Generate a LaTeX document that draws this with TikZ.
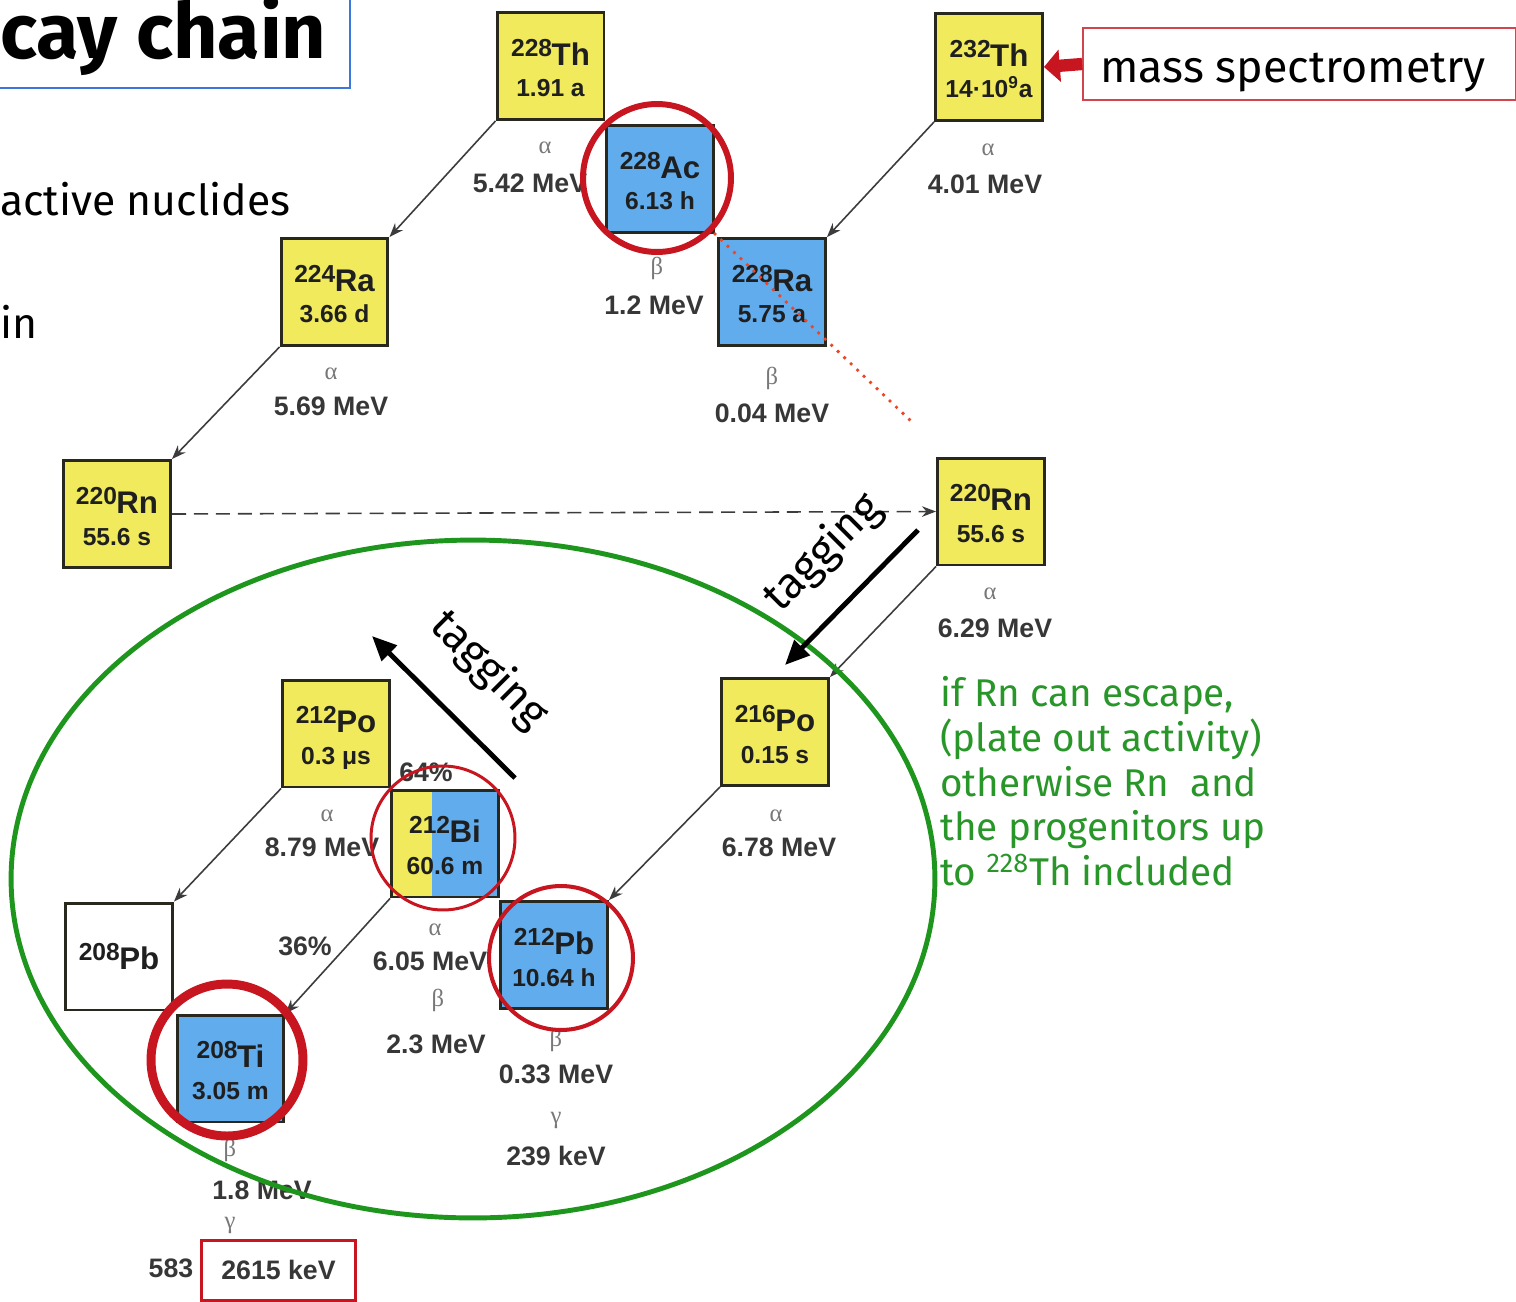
\documentclass[tikz,border=0pt]{standalone}
\usepackage{fontspec}
\setmainfont{Liberation Sans}
\newfontfamily\comic{Fira Sans}
\newfontfamily\serifa{Liberation Serif}
\usetikzlibrary{arrows.meta}
\definecolor{nyellow}{RGB}{240,234,92}
\definecolor{nblue}{RGB}{96,172,236}
\definecolor{boxline}{RGB}{40,40,30}
\definecolor{linegray}{RGB}{60,60,60}
\definecolor{labgray}{RGB}{55,55,55}
\definecolor{alphagray}{RGB}{120,120,120}
\definecolor{ellgreen}{RGB}{30,150,30}
\definecolor{txtgreen}{RGB}{40,150,40}
\definecolor{circred}{RGB}{200,22,32}
\definecolor{dotred}{RGB}{235,70,40}
\definecolor{titleblue}{RGB}{60,120,220}
\definecolor{navytext}{RGB}{15,30,55}
\tikzset{
  nucbox/.style={draw=boxline, line width=1.7pt, minimum width=2.14cm, minimum height=2.14cm, inner sep=0pt},
  yel/.style={nucbox, fill=nyellow},
  blu/.style={nucbox, fill=nblue},
  wht/.style={nucbox, fill=white},
  bif/.style={nucbox, path picture={
   \fill[nblue] (path picture bounding box.south west) rectangle (path picture bounding box.north east);
   \fill[nyellow] (path picture bounding box.south west) rectangle ([xshift=0.8cm]path picture bounding box.north west);}},
  symtxt/.style={anchor=base, inner sep=0pt, font=\bfseries, text=black!88},
  arr/.style={draw=linegray, line width=0.9pt, -{Stealth[length=8pt,width=6pt]}},
  lab/.style={font=\bfseries\fontsize{15.2}{17}\selectfont, text=labgray, inner sep=1pt},
  grk/.style={font=\serifa\fontsize{14}{14}\selectfont, text=alphagray, inner sep=1pt},
  tagarr/.style={draw=black, line width=2.8pt, -{Triangle[length=14pt,width=12pt]}},
  tagtxt/.style={font=\comic\fontsize{25}{25}\selectfont, text=black, inner sep=0pt},
  redcirc/.style={draw=circred}
}
% \nucl{name}{position}{box style}{mass}{symbol}{half-life}
\newcommand{\nucl}[6]{%
  \node[#3] (#1) at (#2) {};
  \node[symtxt] (#1s) at ([yshift=0.02cm]#1.center) {\raisebox{5pt}{\fontsize{14}{14}\selectfont #4}\kern-0.3pt{\fontsize{17.8}{18}\selectfont #5}};
  \node[symtxt] (#1h) at ([yshift=-0.62cm]#1.center) {\fontsize{14}{14}\selectfont #6};
}
\begin{document}
\begin{tikzpicture}[x=0.02cm,y=-0.02cm]
\useasboundingbox (0,0) rectangle (1516,1302);
\fill[white] (0,0) rectangle (1516,1302);

% title box
\draw[titleblue, line width=1.3pt] (-10,-10) rectangle (350,88);
\node[anchor=base west, font=\comic\bfseries\fontsize{44}{44}\selectfont, inner sep=0pt] (title) at (0,58) {cay chain};
\node[anchor=base west, font=\comic\fontsize{24.3}{24}\selectfont, inner sep=0pt] (t1) at (0,215) {active nuclides};
\node[anchor=base west, font=\comic\fontsize{24.3}{24}\selectfont, inner sep=0pt] (t2) at (0,338) {in};

% nuclide boxes
\nucl{th228}{550.5,66}{yel}{228}{Th}{1.91 a}
\nucl{th232}{989,67}{yel}{232}{Th}{14·10\textsuperscript{9}a}
\nucl{ac228}{660,179}{blu}{228}{Ac}{6.13 h}
\nucl{ra228}{772,292}{blu}{228}{Ra}{5.75 a}
\nucl{ra224}{334.5,292}{yel}{224}{Ra}{3.66 d}
\nucl{rnL}{117,514}{yel}{220}{Rn}{55.6 s}
\nucl{rnR}{991,511.5}{yel}{220}{Rn}{55.6 s}
\nucl{po212}{336,733.5}{yel}{212}{Po}{0.3 μs}
\nucl{po216}{775,732}{yel}{216}{Po}{0.15 s}
\nucl{bi212}{445,843.5}{bif}{212}{Bi}{60.6 m}
\nucl{pb212}{554,955}{blu}{212}{Pb}{10.64 h}
\nucl{tl208}{230.5,1068.5}{blu}{208}{Ti}{3.05 m}
\node[wht] (pb208) at (119,956.5) {};
\node[symtxt] (pb208s) at ([yshift=-0.26cm]pb208.center) {\raisebox{5pt}{\fontsize{14}{14}\selectfont 208}\kern-0.3pt{\fontsize{17.8}{18}\selectfont Pb}};

% decay arrows
\draw[arr] (th228.south west) -- (ra224.north east);
\draw[arr] (th232.south west) -- (ra228.north east);
\draw[arr] (ra224.south west) -- (rnL.north east);
\draw[arr, dash pattern=on 8pt off 4.5pt] (rnL.east) -- (rnR.west);
\draw[arr] (rnR.south west) -- (po216.north east);
\draw[arr] (po216.south west) -- (pb212.north east);
\draw[arr] (po212.south west) -- (pb208.north east);
\draw[arr] (bi212.south west) -- (tl208.north east);

% labels
\node[grk] (g1) at (545,148) {α};
\node[lab] (e1) at (530,183) {5.42 MeV};
\node[grk] (g2) at (988,150) {α};
\node[lab] (e2) at (985,184) {4.01 MeV};
\node[grk] (g3) at (657,268) {β};
\node[lab] (e3) at (654,305) {1.2 MeV};
\node[grk] (g4) at (772,378) {β};
\node[lab] (e4) at (772,413) {0.04 MeV};
\node[grk] (g5) at (331,374) {α};
\node[lab] (e5) at (331,406) {5.69 MeV};
\node[grk] (g6) at (990,594) {α};
\node[lab] (e6) at (995,628) {6.29 MeV};
\node[grk] (g7) at (327,816) {α};
\node[lab] (e7) at (322,847) {8.79 MeV};
\node[lab] (p64) at (426,772) {64\%};
\node[lab] (p36) at (305,946) {36\%};
\node[grk] (g8) at (435,930) {α};
\node[lab] (e8) at (430,961) {6.05 MeV};
\node[grk] (g9) at (438,1000) {β};
\node[lab] (e9) at (436,1044) {2.3 MeV};
\node[grk] (g10) at (776,816) {α};
\node[lab] (e10) at (779,847) {6.78 MeV};
\node[grk] (g11) at (556,1040) {β};
\node[lab] (e11) at (556,1074) {0.33 MeV};
\node[grk] (g12) at (556,1120) {γ};
\node[lab] (e12) at (556,1156) {239 keV};
\node[grk] (g13) at (230,1150) {β};
\node[lab] (e13) at (262,1190) {1.8 MeV};
\node[grk] (g14) at (230,1225) {γ};
\node[lab] (e14) at (171,1268) {583};
\node[lab, draw=circred, line width=1.7pt, minimum width=3.1cm, minimum height=1.2cm] (e15) at (278.5,1270) {2615 keV};

% green ellipse
\draw[ellgreen, line width=2.8pt] (473,879) ellipse [x radius=9.24cm, y radius=6.78cm];

% red circles
\draw[redcirc, line width=3.4pt] (657,178) circle [radius=1.48cm];
\draw[redcirc, line width=1.7pt] (443,838) circle [radius=1.44cm];
\draw[redcirc, line width=2.3pt] (561,958) circle [radius=1.44cm];
\draw[redcirc, line width=5.1pt] (227,1060) circle [radius=1.52cm];

% red dotted line
\coordinate (dotend) at (912,422);
\draw[dotred, line width=2.2pt, line cap=round, dash pattern=on 0pt off 5.1pt] (ac228.south east) -- (dotend);

% tagging arrows
\coordinate (tagAs) at (515,778);
\coordinate (tagAe) at (372,636);
\draw[tagarr] (tagAs) -- (tagAe);
\node[tagtxt, rotate=-45] (tagA) at (489,670) {tagging};
\coordinate (tagBs) at (918,530);
\coordinate (tagBe) at (785,665);
\draw[tagarr] (tagBs) -- (tagBe);
\node[tagtxt, rotate=45] (tagB) at (823,553) {tagging};

% mass spectrometry
\node[draw=circred!80, line width=1pt, minimum width=8.66cm, minimum height=1.44cm, inner sep=0pt] (msbox) at (1299.5,64) {};
\node[anchor=base west, font=\comic\fontsize{25.5}{25}\selectfont, inner sep=0pt] (mstext) at (1100,82) {mass spectrometry};
\draw[circred, line width=7pt, -{Triangle[length=9pt,width=18pt]}] (msbox.west) -- (th232.east);

% green text
\node[anchor=north west, align=left, font=\comic\fontsize{22}{25.5}\selectfont, text=txtgreen, inner sep=0pt] (note) at (940,676)
 {if Rn can escape,\\(plate out activity)\\otherwise Rn\ \ and\\the progenitors up\\to \textsuperscript{228}Th included};
\end{tikzpicture}
\end{document}
